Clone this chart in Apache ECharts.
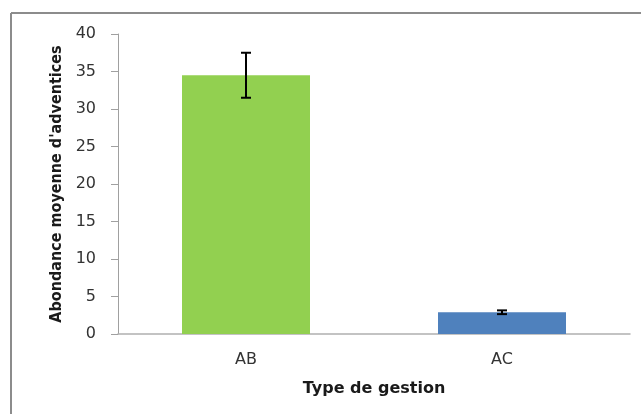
<!DOCTYPE html>
<html><head><meta charset="utf-8">
<script src="https://cdn.jsdelivr.net/npm/echarts@6/dist/echarts.min.js"></script>
<style>html,body{margin:0;padding:0;background:#fff}#c{width:641px;height:414px}</style>
</head><body><div id="c"></div>
<script>
const categories = ['AB', 'AC'];
const means = [34.5, 2.9];
const errors = [3.0, 0.25];
const barColors = ['#92d050', '#4f81bd'];
const yTicks = [0, 5, 10, 15, 20, 25, 30, 35, 40];
const yTitle = "Abondance moyenne d'adventices";
const xTitle = 'Type de gestion';

const chart = echarts.init(document.getElementById('c'), null, {renderer: 'canvas'});
const errData = categories.map((c, i) => [i, means[i] - errors[i], means[i] + errors[i]]);
chart.setOption({
  animation: false,
  grid: {left: 118, right: 11, top: 34, bottom: 80},
  graphic: [
    {type: 'line', shape: {x1: 11, y1: 13, x2: 641, y2: 13}, style: {stroke: '#8c8c8c', lineWidth: 2}},
    {type: 'line', shape: {x1: 11, y1: 13, x2: 11, y2: 414}, style: {stroke: '#8c8c8c', lineWidth: 2}}
  ],
  xAxis: {
    type: 'category', data: categories,
    name: xTitle, nameLocation: 'middle', nameGap: 47,
    nameTextStyle: {fontFamily: 'DejaVu Sans', fontWeight: 'bold', fontSize: 16, color: '#1a1a1a'},
    axisLine: {lineStyle: {color: '#b0b0b0', width: 1.5}},
    axisTick: {show: false},
    axisLabel: {fontFamily: 'DejaVu Sans', fontSize: 16, color: '#333', margin: 18}
  },
  yAxis: {
    type: 'value', min: yTicks[0], max: yTicks[yTicks.length - 1], interval: 5,
    name: yTitle, nameLocation: 'middle', nameGap: 52,
    nameTextStyle: {fontFamily: 'DejaVu Sans Condensed', fontWeight: 'bold', fontSize: 16, color: '#1a1a1a'},
    axisLine: {show: true, lineStyle: {color: '#a0a0a0'}},
    axisTick: {show: true, length: 7, lineStyle: {color: '#a0a0a0'}},
    splitLine: {show: false},
    axisLabel: {fontFamily: 'DejaVu Sans', fontSize: 16, color: '#333', margin: 22}
  },
  series: [
    {
      type: 'bar', barWidth: '50%',
      data: means.map((v, i) => ({value: v, itemStyle: {color: barColors[i]}}))
    },
    {
      type: 'custom',
      data: errData,
      z: 10,
      renderItem: function (params, api) {
        const x = api.value(0);
        const lo = api.coord([x, api.value(1)]);
        const hi = api.coord([x, api.value(2)]);
        const w = 5;
        const st = {stroke: '#000', lineWidth: 2};
        return {type: 'group', children: [
          {type: 'line', shape: {x1: lo[0], y1: lo[1], x2: hi[0], y2: hi[1]}, style: st},
          {type: 'line', shape: {x1: lo[0] - w, y1: lo[1], x2: lo[0] + w, y2: lo[1]}, style: st},
          {type: 'line', shape: {x1: hi[0] - w, y1: hi[1], x2: hi[0] + w, y2: hi[1]}, style: st}
        ]};
      }
    }
  ]
});
</script></body></html>
